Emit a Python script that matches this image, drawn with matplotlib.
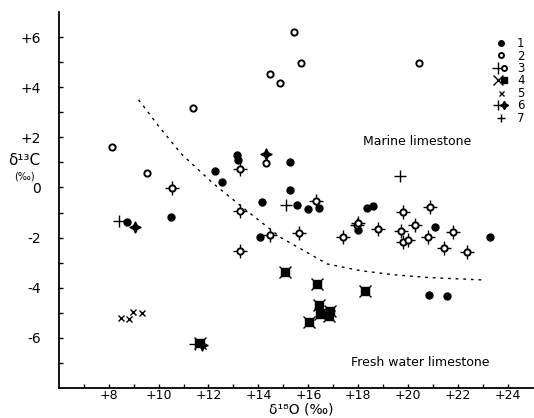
import matplotlib
matplotlib.use("Agg")
import matplotlib.pyplot as plt
from matplotlib.legend_handler import HandlerTuple

# Data (delta 18O, delta 13C)
s1_x = [13.15, 13.17, 12.25, 12.56, 15.25, 15.28, 14.13, 15.53, 15.99, 16.41, 14.05, 18.01,
        10.48, 8.72, 18.35, 18.61, 21.08, 23.27, 20.83, 21.57]
s1_y = [1.31, 1.08, 0.64, 0.21, 1.0, -0.12, -0.57, -0.71, -0.84, -0.8, -1.96, -1.68,
        -1.16, -1.37, -0.81, -0.72, -1.56, -1.96, -4.28, -4.32]

s2_x = [8.15, 9.55, 11.39, 14.45, 15.41, 15.71, 14.85, 20.45, 14.32]
s2_y = [1.61, 0.59, 3.17, 4.52, 6.19, 4.97, 4.16, 4.95, 0.99]

s3_x = [13.28, 13.25, 14.48, 15.64, 13.25, 16.32, 17.37, 17.95, 10.55, 18.01, 18.81, 19.79,
        20.88, 19.71, 20.28, 19.81, 20.01, 20.81, 21.81, 21.44, 22.37]
s3_y = [0.73, -0.95, -1.91, -1.83, -2.52, -0.53, -1.99, -1.48, -0.03, -1.43, -1.64, -0.96,
        -0.79, -1.75, -1.49, -2.17, -2.09, -1.99, -1.76, -2.41, -2.59]

s4_x = [15.07, 16.35, 18.28, 16.44, 16.48, 16.88, 16.81, 16.04, 11.65]
s4_y = [-3.39, -3.84, -4.15, -4.69, -5.03, -4.92, -5.12, -5.36, -6.2]

s5_x = [8.48, 8.81, 8.99, 9.32]
s5_y = [-5.19, -5.25, -4.95, -4.99]

s6_x = [9.05, 14.31, 11.75]
s6_y = [-1.59, 1.32, -6.3]

s7_x = [8.41, 15.12, 19.68, 11.45]
s7_y = [-1.32, -0.71, 0.45, -6.25]

boundary_x = [9.2, 10.0, 10.9, 12.2, 13.5, 14.9, 16.0, 16.75, 18.1, 19.4, 20.75, 23.0]
boundary_y = [3.5, 2.45, 1.35, 0.15, -0.9, -2.0, -2.62, -3.05, -3.32, -3.48, -3.59, -3.69]

x_ticks = [8, 10, 12, 14, 16, 18, 20, 22, 24]
x_labels = ["+8", "+10", "+12", "+14", "+16", "+18", "+20", "+22", "+24"]
y_ticks = [6, 4, 2, 0, -2, -4, -6]
y_labels = ["+6", "+4", "+2", "0", "-2", "-4", "-6"]
legend_labels = ["1", "2", "3", "4", "5", "6", "7"]

fig = plt.figure(figsize=(5.34, 4.18), dpi=100)
ax = fig.add_axes([0.110, 0.0718, 0.888, 0.8995])
ax.set_xlim(6, 25)
ax.set_ylim(-8, 7)

k = dict(linestyle="none", color="black")
h1, = ax.plot(s1_x, s1_y, marker="o", ms=5, **k)
h2, = ax.plot(s2_x, s2_y, marker="o", ms=4.5, mfc="white", mew=1.4, **k)
h3a, = ax.plot(s3_x, s3_y, marker="+", ms=10, mew=1.0, **k)
h3b, = ax.plot(s3_x, s3_y, marker="o", ms=4.5, mfc="white", mew=1.4, **k)
h4a, = ax.plot(s4_x, s4_y, marker="x", ms=9, mew=1.0, **k)
h4b, = ax.plot(s4_x, s4_y, marker="s", ms=5.5, **k)
h5, = ax.plot(s5_x, s5_y, marker="x", ms=4.5, mew=1.0, **k)
h6a, = ax.plot(s6_x, s6_y, marker="+", ms=9, mew=1.0, **k)
h6b, = ax.plot(s6_x, s6_y, marker=(4, 1, 0), ms=7.5, **k)
h7, = ax.plot(s7_x, s7_y, marker="+", ms=8, mew=1.0, **k)

ax.plot(boundary_x, boundary_y, color="black", lw=1.0, linestyle=(0, (2, 3.5)))

ax.text(20.36, 1.84, "Marine limestone", ha="center", va="center", fontsize=9)
ax.text(20.48, -7.0, "Fresh water limestone", ha="center", va="center", fontsize=9)

ax.legend([h1, h2, (h3a, h3b), (h4a, h4b), h5, (h6a, h6b), h7], legend_labels,
          handler_map={tuple: HandlerTuple(ndivide=None)},
          loc="upper right", bbox_to_anchor=(1.0, 0.955), frameon=False,
          fontsize=8.5, handlelength=0.9, handletextpad=0.9, labelspacing=-0.05,
          borderpad=0.2, markerscale=0.8)

ax.spines["top"].set_visible(False)
ax.spines["right"].set_visible(False)
ax.spines["left"].set_linewidth(1.3)
ax.spines["bottom"].set_linewidth(1.3)

ax.set_xticks(x_ticks)
ax.set_xticklabels(x_labels, fontsize=9)
ax.set_yticks(y_ticks)
ax.set_yticklabels(y_labels, fontsize=10)
ax.set_xticks(range(7, 25), minor=True)
ax.set_yticks(range(-7, 7), minor=True)
ax.tick_params(which="both", direction="in", length=3, width=1)
ax.tick_params(axis="x", pad=1)
ax.tick_params(axis="y", pad=13)

fig.text(0.045, 0.617, "\u03b4\u00b9\u00b3C", ha="center", va="center", fontsize=11)
fig.text(0.045, 0.578, "(\u2030)", ha="center", va="center", fontsize=7)
fig.text(0.565, 0.004, "\u03b4\u00b9\u2078O (\u2030)", ha="center", va="bottom", fontsize=10)

fig.savefig("out.png", dpi=100)
